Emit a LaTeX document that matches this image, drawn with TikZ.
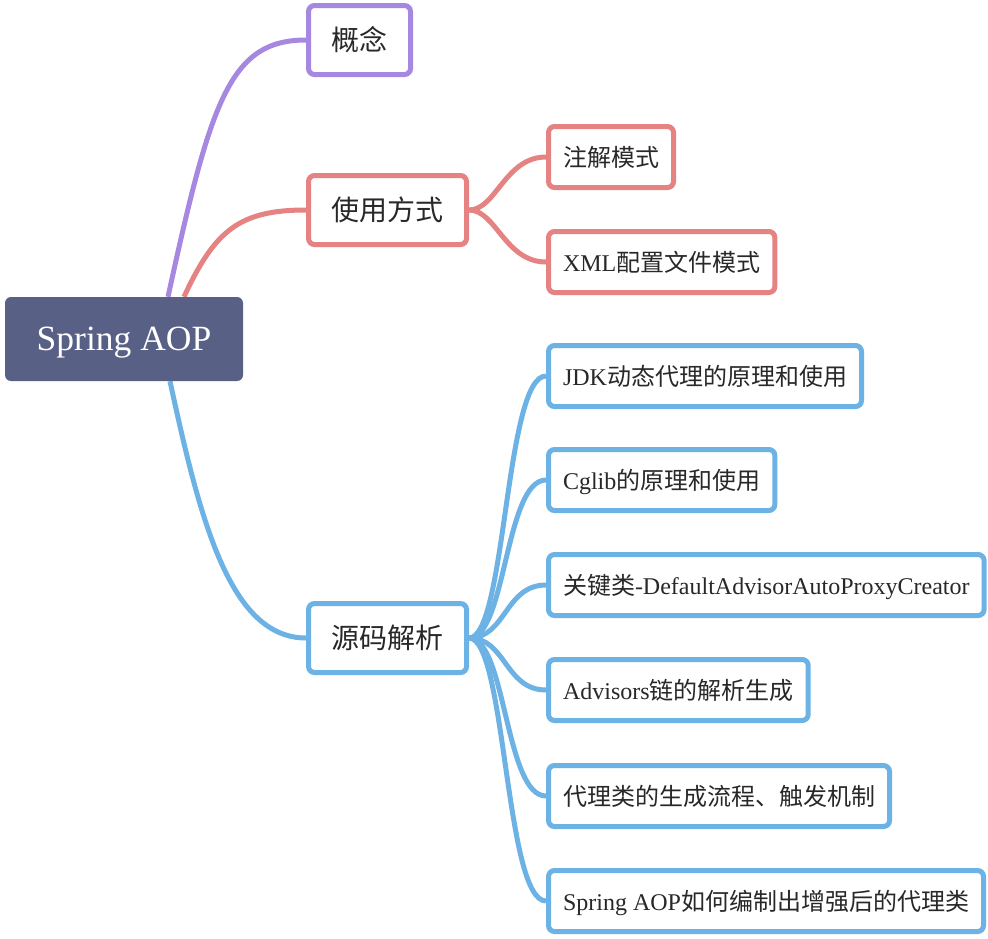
\documentclass[tikz,border=0pt]{standalone}
\usepackage{fontspec}
\setmainfont{Liberation Serif}
\newfontfamily\cjk{Noto Sans CJK SC}
\usepackage{tikz}
\usetikzlibrary{backgrounds}
\definecolor{rootc}{RGB}{88,96,133}
\definecolor{conceptc}{RGB}{167,136,224}
\definecolor{usagec}{RGB}{229,131,130}
\definecolor{sourcec}{RGB}{108,178,228}
\definecolor{textc}{RGB}{40,40,40}

\tikzset{
  topic/.style={draw, line width=5pt, rounded corners=6pt, fill=white, text=textc,
    font=\fontsize{28}{32}\selectfont, minimum height=69pt, inner xsep=23pt,
    text height=23pt, text depth=1.8pt, anchor=west},
  sub/.style={draw, line width=5pt, rounded corners=6pt, fill=white, text=textc,
    font=\fontsize{24}{28}\selectfont, minimum height=61pt, inner xsep=14.5pt,
    text height=20pt, text depth=2pt, anchor=west},
  link/.style={line width=5pt}
}

\begin{document}
\begin{tikzpicture}[x=1pt,y=-1pt]
  \useasboundingbox (0,0) rectangle (988,938);

  %% Root
  \node[fill=rootc, rounded corners=6pt, minimum width=238pt, minimum height=84pt,
    text=white, font=\fontsize{35.5}{40}\selectfont,
    text height=26pt, text depth=2.6pt] (root) at (124,339) {Spring AOP};

  %% First level
  \node[topic, draw=conceptc] (concept) at (306,40) {\cjk 概念};
  \node[topic, draw=usagec] (usage) at (306,210) {\cjk 使用方式};
  \node[topic, draw=sourcec] (source) at (306,638) {\cjk 源码解析};

  %% Usage
  \node[sub, draw=usagec] (anno) at (546,157) {\cjk 注解模式};
  \node[sub, draw=usagec] (xml) at (546,262) {XML{\cjk 配置文件模式}};

  %% Source code
  \foreach \n/\y/\t in {jdk/376/{JDK{\cjk 动态代理的原理和使用}},
                        cglib/480/{Cglib{\cjk 的原理和使用}},
                        key/585/{{\cjk 关键类}-DefaultAdvisorAutoProxyCreator},
                        chain/690/{Advisors{\cjk 链的解析生成}},
                        flow/796/{{\cjk 代理类的生成流程、触发机制}},
                        weave/901/{Spring AOP{\cjk 如何编制出增强后的代理类}}
                        }{
    \node[sub, draw=sourcec] (\n) at (546,\y) {\t};
  }

  \begin{scope}[on background layer]
    \draw[link, conceptc] ([xshift=44pt]root.north) .. controls +(43,-197) and +(-76,0) .. (concept.west);
    \draw[link, usagec] ([xshift=60pt]root.north) .. controls +(31,-67) and +(-66,0) .. (usage.west);
    \draw[link, sourcec] ([xshift=46pt]root.south) .. controls +(30,139) and +(-76,0) .. (source.west);

    \foreach \c in {anno, xml}{
      \draw[link, usagec] (usage.east) .. controls +(27,0) and +(-41,0) .. (\c.west);
    }
    \foreach \c in {jdk, cglib, key, chain, flow, weave}{
      \draw[link, sourcec] (source.east) .. controls +(37,0) and +(-41,0) .. (\c.west);
    }
  \end{scope}

\end{tikzpicture}
\end{document}
